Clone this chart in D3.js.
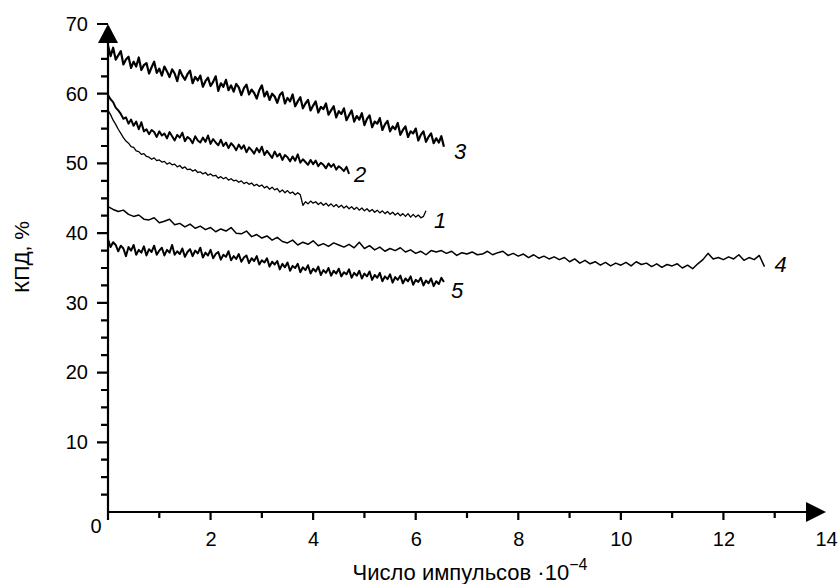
<!DOCTYPE html>
<meta charset="utf-8">
<style>
  body { margin: 0; background: #fff; }
  svg text { font-family: Arial, "Liberation Sans", sans-serif; fill: #000; }
  .curve { fill: none; stroke: #000; stroke-width: 1.6px; stroke-linejoin: round; }
  .axis text { font-size: 20px; }
  .axis path, .axis line { display: none; }
  .label { font-size: 22px; font-style: italic; }
</style>
<svg width="838" height="584"></svg>
<script src="https://d3js.org/d3.v7.min.js"></script>
<script>

  // ---- data (KPD, %) ----
  // x = number of pulses * 1e-4, sampled from 0 with a fixed step per curve
  var step1 = 0.05, step2 = 0.05, step3 = 0.05, step4 = 0.1, step5 = 0.05;

  var curve1 = [57.6, 57.0, 56.2, 55.6, 54.9, 54.3, 53.7, 53.2, 52.9, 52.4, 52.3, 51.8, 51.7, 51.3, 51.4, 51.0, 50.9, 50.6, 50.8, 50.4,
    50.5, 50.2, 50.3, 49.9, 50.1, 49.8, 49.9, 49.5, 49.7, 49.3, 49.5, 49.1, 49.2, 48.9, 49.1, 48.7, 48.8, 48.5, 48.7, 48.3,
    48.5, 48.2, 48.3, 47.9, 48.1, 47.8, 48.0, 47.6, 47.8, 47.5, 47.6, 47.3, 47.5, 47.1, 47.3, 47.0, 47.2, 46.8, 47.0, 46.7,
    46.9, 46.5, 46.7, 46.3, 46.6, 46.2, 46.4, 45.9, 46.2, 45.8, 46.1, 45.7, 45.9, 45.5, 45.8, 45.5, 44.0, 44.5, 44.2, 44.6,
    44.3, 44.5, 44.1, 44.4, 44.0, 44.3, 43.9, 44.2, 43.8, 44.1, 43.7, 44.0, 43.6, 43.9, 43.5, 43.8, 43.4, 43.7, 43.3, 43.6,
    43.2, 43.5, 43.1, 43.4, 43.0, 43.3, 42.9, 43.2, 42.8, 43.1, 42.7, 43.0, 42.6, 42.9, 42.5, 42.8, 42.4, 42.8, 42.3, 42.7,
    42.3, 42.6, 42.2, 42.4, 43.2];

  var curve2 = [59.8, 59.2, 58.8, 58.0, 57.6, 57.1, 56.4, 56.6, 55.7, 56.3, 55.4, 56.0, 54.9, 55.9, 54.6, 54.9, 54.2, 54.8, 54.5, 53.8,
    54.6, 54.0, 54.3, 53.6, 54.5, 53.9, 53.3, 54.1, 53.7, 54.4, 53.2, 53.8, 53.5, 52.9, 53.9, 53.3, 53.0, 53.7, 53.1, 54.0,
    52.8, 53.5, 53.0, 52.6, 53.4, 52.5, 53.0, 52.2, 52.9, 52.5, 51.9, 52.7, 52.1, 52.6, 51.6, 52.3, 51.9, 51.4, 52.2, 51.6,
    52.4, 51.2, 51.8, 51.3, 50.8, 51.7, 51.0, 51.4, 50.5, 51.2, 50.9, 50.3, 51.0, 50.4, 51.3, 50.1, 50.6, 50.2, 49.8, 50.5,
    49.9, 50.4, 49.6, 50.1, 49.8, 49.3, 50.0, 49.5, 49.9, 49.1, 49.6, 49.3, 48.9, 49.5, 48.5];

  var curve3 = [66.9, 65.4, 66.6, 64.9, 65.5, 66.1, 64.2, 64.9, 65.3, 63.7, 64.6, 63.9, 65.2, 63.4, 64.1, 64.4, 62.9, 63.8, 64.6, 63.0,
    63.6, 62.6, 63.9, 63.2, 62.4, 63.5, 62.9, 61.8, 63.4, 62.6, 62.0, 62.8, 63.3, 61.5, 62.4, 61.9, 62.6, 61.0, 61.8, 62.3,
    61.1, 61.7, 62.5, 60.4, 61.5, 61.0, 62.0, 60.5, 61.2, 60.3, 61.4, 60.9, 59.8, 60.8, 61.3, 59.9, 60.6, 60.1, 59.3, 60.5,
    61.2, 59.6, 60.3, 59.1, 60.0, 59.6, 58.7, 59.8, 60.2, 58.6, 59.4, 58.9, 59.9, 58.2, 58.9, 59.5, 57.9, 58.6, 59.1, 57.6,
    58.3, 58.9, 57.3, 58.1, 57.8, 58.6, 57.0, 57.6, 58.2, 56.6, 57.5, 57.1, 57.9, 56.2, 56.9, 57.6, 56.0, 56.8, 56.3, 57.2,
    55.5, 56.4, 56.9, 55.2, 56.0, 55.7, 56.5, 54.8, 55.6, 56.1, 54.6, 55.3, 54.9, 55.8, 54.1, 54.8, 55.3, 53.8, 54.6, 54.3,
    55.0, 53.3, 54.1, 54.6, 53.1, 53.8, 54.3, 52.9, 53.6, 53.0, 53.9, 52.4];

  var curve4 = [43.8, 43.4, 43.1, 43.3, 42.7, 42.4, 42.6, 42.0, 41.9, 42.2, 41.5, 41.7, 42.0, 41.2, 41.4, 40.9, 41.3, 40.7, 41.0, 40.5,
    40.8, 40.2, 40.6, 40.3, 40.8, 40.0, 39.9, 40.3, 39.5, 39.8, 39.3, 39.6, 39.0, 39.4, 38.8, 38.6, 39.0, 38.3, 38.7, 38.4,
    38.9, 38.2, 38.5, 38.1, 38.6, 38.3, 38.0, 38.4, 37.9, 38.7, 37.8, 38.2, 37.6, 38.0, 37.4, 37.8, 37.5, 37.9, 37.3, 37.6,
    37.1, 37.4, 36.9, 37.5, 37.3, 37.5, 37.1, 37.4, 36.8, 37.2, 37.0, 37.3, 36.9, 37.0, 37.4, 36.9, 37.2, 37.4, 36.8, 37.1,
    36.7, 37.0, 36.5, 36.9, 36.4, 36.7, 36.3, 36.6, 36.2, 36.5, 35.9, 36.3, 35.7, 36.1, 35.6, 35.9, 35.4, 35.8, 35.3, 35.7,
    35.4, 35.8, 35.3, 35.9, 35.5, 35.7, 35.2, 35.6, 35.1, 35.5, 35.3, 35.6, 35.0, 35.4, 34.9, 35.6, 36.2, 37.1, 36.3, 36.5,
    36.2, 36.6, 36.3, 36.9, 36.1, 36.5, 36.2, 36.8, 35.2];

  var curve5 = [39.1, 38.0, 38.7, 38.3, 37.4, 38.2, 37.8, 36.7, 38.0, 37.5, 38.3, 36.9, 37.6, 37.2, 38.1, 36.8, 37.7, 37.3, 38.2, 36.9,
    37.5, 37.9, 36.8, 37.6, 37.2, 38.3, 36.9, 37.4, 37.0, 37.8, 36.6, 37.3, 37.7, 36.7, 37.5, 37.1, 37.9, 36.5, 37.2, 36.8,
    37.6, 36.4, 37.0, 37.3, 36.2, 36.9, 36.6, 37.4, 36.1, 36.7, 36.3, 37.0, 35.9, 36.5, 36.8, 35.7, 36.4, 36.0, 36.7, 35.5,
    36.1, 35.8, 36.4, 35.2, 35.9, 35.5, 36.0, 34.8, 35.6, 35.1, 35.8, 34.6, 35.3, 35.0, 35.6, 34.4, 35.1, 34.7, 35.4, 34.2,
    34.9, 34.5, 35.2, 34.0, 34.7, 34.3, 35.0, 33.9, 34.6, 34.2, 34.9, 33.8, 34.4, 34.1, 34.8, 33.6, 34.3, 33.9, 34.6, 33.5,
    34.2, 33.8, 34.5, 33.3, 34.0, 33.6, 34.3, 33.1, 33.8, 33.4, 34.1, 32.9, 33.7, 33.3, 33.9, 32.8, 33.5, 33.1, 33.8, 32.6,
    33.3, 33.0, 33.6, 32.5, 33.2, 32.8, 33.5, 32.4, 33.1, 32.7, 33.6, 33.0];

  var curveNames = ["1", "2", "3", "4", "5"];
  var xMajor = [0, 2, 4, 6, 8, 10, 12, 14];
  var yMajor = [0, 10, 20, 30, 40, 50, 60, 70];

  // ---- layout ----
  var svg = d3.select("svg");

  var xScale = d3.scaleLinear().domain([0, 14]).range([108, 826]);
  var yScale = d3.scaleLinear().domain([0, 70]).range([512, 24]);

  function toPoints(values, step) {
    return values.map(function (v, i) { return { x: i * step, y: v }; });
  }

  var series = [curve1, curve2, curve3, curve4, curve5].map(function (vals, i) {
    var step = [step1, step2, step3, step4, step5][i];
    return { id: curveNames[i], values: toPoints(vals, step) };
  });

  // noisy curves look like thick bands in the original
  var strokeWidth = { "1": 1.3, "2": 2.0, "3": 2.2, "4": 1.5, "5": 2.0 };
  // label nudges (px) from the last point of each curve
  var labelOffset = { "1": [8, 17], "2": [5, 8], "3": [10, 12], "4": [10, 5], "5": [7, 16] };

  var line = d3.line()
    .x(function (d) { return xScale(d.x); })
    .y(function (d) { return yScale(d.y); });

  var xMinor = d3.range(1, 14, 2);
  var yMinor = d3.range(0, 70, 2.5).filter(function (v) { return v % 10 !== 0; });

  // tick labels come from d3 axes, tick marks are drawn as one path below
  svg.append("g")
    .attr("class", "axis")
    .attr("transform", "translate(0," + yScale(0) + ")")
    .call(d3.axisBottom(xScale).tickValues(xMajor.filter(function (v) { return v > 0; }))
      .tickSize(0).tickPadding(20).tickFormat(d3.format("d")));

  svg.append("g")
    .attr("class", "axis")
    .attr("transform", "translate(" + xScale(0) + ",0)")
    .call(d3.axisLeft(yScale).tickValues(yMajor.filter(function (v) { return v > 0; }))
      .tickSize(0).tickPadding(20).tickFormat(d3.format("d")));

  // the "0" at the origin, below and left
  svg.append("text")
    .attr("x", xScale(0) - 12)
    .attr("y", yScale(0) + 21)
    .attr("text-anchor", "middle")
    .style("font-size", "20px")
    .text("0");

  // axis lines and tick marks
  var p = d3.path();
  p.moveTo(xScale(0), yScale(0) + 8);
  p.lineTo(xScale(0), yScale(70) + 10);
  p.moveTo(xScale(0) - 1, yScale(0));
  p.lineTo(xScale(14) - 10, yScale(0));
  xMajor.filter(function (v) { return v < 14; }).forEach(function (v) {
    p.moveTo(xScale(v), yScale(0)); p.lineTo(xScale(v), yScale(0) + 8);
  });
  xMinor.forEach(function (v) {
    p.moveTo(xScale(v), yScale(0)); p.lineTo(xScale(v), yScale(0) + 6);
  });
  yMajor.filter(function (v) { return v > 0; }).forEach(function (v) {
    p.moveTo(xScale(0), yScale(v)); p.lineTo(xScale(0) - 11, yScale(v));
  });
  yMinor.forEach(function (v) {
    p.moveTo(xScale(0), yScale(v)); p.lineTo(xScale(0) - 7, yScale(v));
  });

  svg.append("path")
    .attr("d", p.toString())
    .attr("fill", "none")
    .attr("stroke", "#000")
    .attr("stroke-width", 2.2);

  // arrow heads
  svg.append("path")
    .attr("d", "M" + xScale(0) + "," + yScale(70) + "L" + (xScale(0) - 10) + "," + (yScale(70) + 19) +
      "L" + (xScale(0) + 10) + "," + (yScale(70) + 19) + "Z")
    .attr("fill", "#000");
  svg.append("path")
    .attr("d", "M" + xScale(14) + "," + yScale(0) + "L" + (xScale(14) - 20) + "," + (yScale(0) - 10) +
      "L" + (xScale(14) - 20) + "," + (yScale(0) + 10) + "Z")
    .attr("fill", "#000");

  // axis titles
  var xt = svg.append("text")
    .attr("x", 470)
    .attr("y", 580)
    .attr("text-anchor", "middle")
    .style("font-size", "22px");
  xt.append("tspan").text("Число импульсов ·10");
  xt.append("tspan").attr("dy", -10).style("font-size", "16px").text("\u22124");

  svg.append("text")
    .attr("transform", "translate(29,257) rotate(-90)")
    .attr("text-anchor", "middle")
    .style("font-size", "21px")
    .text("КПД, %");

  // curves
  var curve = svg.selectAll(".series")
    .data(series)
    .enter().append("g")
    .attr("class", "series");

  curve.append("path")
    .attr("class", "curve")
    .style("stroke-width", function (d) { return strokeWidth[d.id] + "px"; })
    .attr("d", function (d) { return line(d.values); });

  curve.append("text")
    .attr("class", "label")
    .datum(function (d) { return { id: d.id, value: d.values[d.values.length - 1] }; })
    .attr("x", function (d) { return xScale(d.value.x) + labelOffset[d.id][0]; })
    .attr("y", function (d) { return yScale(d.value.y) + labelOffset[d.id][1]; })
    .text(function (d) { return d.id; });

</script>
